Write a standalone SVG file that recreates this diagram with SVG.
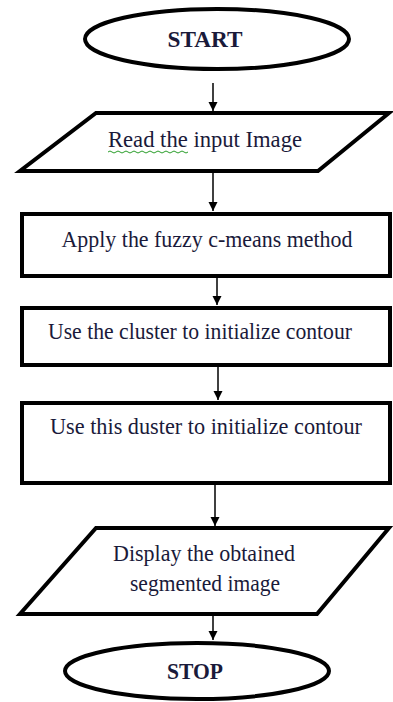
<svg xmlns="http://www.w3.org/2000/svg" width="393" height="702" viewBox="0 0 393 702">
<style>
.shape{fill:#fff;stroke:#000;stroke-width:4;stroke-linejoin:miter}
.lbl{font-family:"Liberation Serif","Times New Roman","DejaVu Serif",serif;font-size:24px;fill:#1a1a3a;text-anchor:middle}
.bold{font-weight:bold}
.conn{stroke:#000;stroke-width:1.5;fill:none}
</style>
<defs>
<marker id="ah" viewBox="0 0 10 10" refX="10" refY="5" markerWidth="9" markerHeight="11" markerUnits="userSpaceOnUse" orient="auto">
<path d="M0,0 L10,5 L0,10 Z" fill="#000"/>
</marker>
</defs>
<rect width="393" height="702" fill="#fff"/>
<g id="connectors">
<line class="conn" x1="213" y1="83" x2="213" y2="111" marker-end="url(#ah)"/>
<line class="conn" x1="213" y1="172" x2="213" y2="211" marker-end="url(#ah)"/>
<line class="conn" x1="217" y1="277" x2="217" y2="305" marker-end="url(#ah)"/>
<line class="conn" x1="218" y1="366" x2="218" y2="400" marker-end="url(#ah)"/>
<line class="conn" x1="215" y1="484" x2="215" y2="526" stroke="#888" marker-end="url(#ah)"/>
<line class="conn" x1="213" y1="616" x2="213" y2="640" marker-end="url(#ah)"/>
</g>
<g id="start">
<ellipse class="shape" cx="217" cy="39" rx="132" ry="30"/>
<text class="lbl bold" x="205" y="47" textLength="75" lengthAdjust="spacingAndGlyphs">START</text>
</g>
<g id="read">
<polygon class="shape" points="96,113 389,113 318,171 20,171"/>
<text class="lbl" x="205" y="147" textLength="194" lengthAdjust="spacingAndGlyphs">Read  the input Image</text>
<path d="M108,152 q2,-2 4,0 t4,0 t4,0 t4,0 t4,0 t4,0 t4,0 t4,0 t4,0 t4,0 t4,0 t4,0 t4,0 t4,0 t4,0 t4,0 t4,0 t4,0 t4,0 t4,0" fill="none" stroke="#2a9d2a" stroke-width="1"/>
</g>
<g id="fcm">
<rect class="shape" x="22" y="214" width="368" height="62"/>
<text class="lbl" x="207" y="247" textLength="291" lengthAdjust="spacingAndGlyphs">Apply the fuzzy c-means method</text>
</g>
<g id="cluster1">
<rect class="shape" x="22" y="308" width="368" height="57"/>
<text class="lbl" x="200" y="339" textLength="304" lengthAdjust="spacingAndGlyphs">Use the cluster to initialize contour</text>
</g>
<g id="cluster2">
<rect class="shape" x="22" y="403" width="368" height="80"/>
<text class="lbl" x="206" y="434" textLength="312" lengthAdjust="spacingAndGlyphs">Use this duster to initialize contour</text>
</g>
<g id="display">
<polygon class="shape" points="96,528 389,528 317,614 20,614"/>
<text class="lbl" x="204" y="561" textLength="182" lengthAdjust="spacingAndGlyphs">Display the obtained</text>
<text class="lbl" x="205" y="591" textLength="150" lengthAdjust="spacingAndGlyphs">segmented image</text>
</g>
<g id="stop">
<ellipse class="shape" cx="197" cy="671" rx="132" ry="28"/>
<text class="lbl bold" x="195" y="679" textLength="56" lengthAdjust="spacingAndGlyphs">STOP</text>
</g>
</svg>
